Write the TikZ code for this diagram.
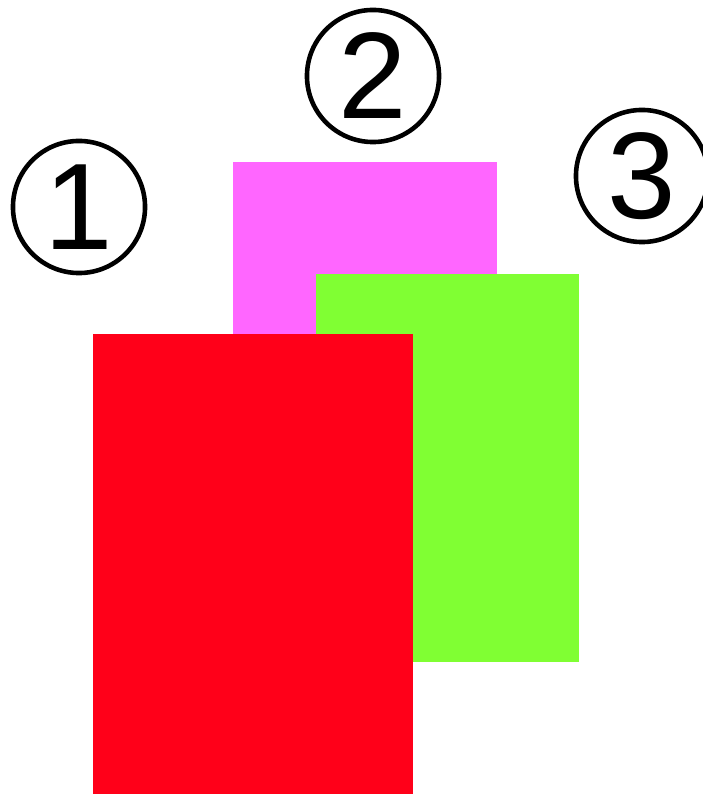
\documentclass[tikz,border=0pt]{standalone}
\usepackage{fontspec}
\setmainfont{Liberation Sans}
\usepackage{xcolor}
\definecolor{sheetmagenta}{HTML}{FF66FF}
\definecolor{sheetgreen}{HTML}{80FF33}
\definecolor{sheetred}{HTML}{FF0019}
\tikzset{
  marker/.style={circle,draw=black,line width=1.3pt,minimum size=1.32cm,inner sep=0pt,
    font=\fontsize{35}{40}\selectfont}
}
\begin{document}
\begin{tikzpicture}[x=0.01cm,y=-0.01cm]
\useasboundingbox (0,0) rectangle (702,794);
\fill[sheetmagenta] (233,162) rectangle (497,600);
\fill[sheetgreen] (316,274) rectangle (579,662);
\fill[sheetred] (93,334) rectangle (413,794);
\node[marker] (one) at (79,207) {1};
\node[marker] (two) at (373,76) {2};
\node[marker] (three) at (642,176) {3};
\end{tikzpicture}
\end{document}
